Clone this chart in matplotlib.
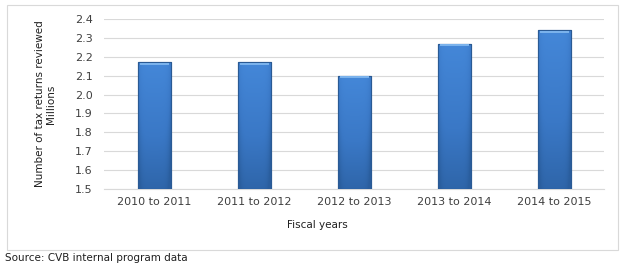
import numpy as np
import matplotlib.pyplot as plt
from matplotlib.patches import Rectangle
from matplotlib.colors import LinearSegmentedColormap

# data
fiscal_years = ['2010 to 2011', '2011 to 2012', '2012 to 2013', '2013 to 2014', '2014 to 2015']
returns_reviewed = [2.17, 2.17, 2.10, 2.27, 2.34]
y_ticks = [1.5, 1.6, 1.7, 1.8, 1.9, 2.0, 2.1, 2.2, 2.3, 2.4]

W, H = 623, 271
plt.rcParams['font.family'] = ['DejaVu Sans']

fig = plt.figure(figsize=(W / 100, H / 100), dpi=100)
ax = fig.add_axes([104 / W, 1 - 189 / H, 500 / W, 170 / H])

x = np.arange(len(fiscal_years))
bars = ax.bar(x, [v - 1.5 for v in returns_reviewed], bottom=1.5, width=0.33,
              color='#3B7BCC', edgecolor='#2A5A94', linewidth=0.8, zorder=3)

# bevelled blue fill: lighter at the top, darker at the bottom and sides
blues = LinearSegmentedColormap.from_list('bevel', ['#2A5E9E', '#3A78C6', '#4487D8'])
yy = np.linspace(0, 1, 64)[:, None]
xx = np.linspace(-1, 1, 32)[None, :]
shade = yy * 0.85 + 0.15 - 0.35 * np.abs(xx) ** 6
for b in bars:
    bx, by, bw, bh = b.get_x(), b.get_y(), b.get_width(), b.get_height()
    im = ax.imshow(shade, cmap=blues, vmin=0, vmax=1, origin='lower', aspect='auto',
                   extent=[bx, bx + bw, by, by + bh], zorder=3.5, interpolation='bilinear')
    im.set_clip_path(b)
    ax.add_patch(Rectangle((bx, by), bw, bh, fill=False, edgecolor='#2A5A94',
                           linewidth=0.8, zorder=4))
# light cap on the top of each bar
ax.bar(x, [0.012] * len(x), bottom=[v - 0.014 for v in returns_reviewed], width=0.29,
       color='#7AB2EC', linewidth=0, zorder=5)

ax.set_xlim(-0.5, len(x) - 0.5)
ax.set_ylim(1.5, 2.4)
ax.set_yticks(y_ticks)
ax.set_yticklabels([f'{t:.1f}' for t in y_ticks])
ax.set_xticks(x)
ax.set_xticklabels(fiscal_years)
ax.tick_params(length=0, labelsize=8, colors='#404040', pad=6)
ax.tick_params(axis='y', pad=8)
ax.grid(axis='y', color='#D9D9D9', linewidth=0.8, zorder=0)
for s in ['top', 'right', 'left']:
    ax.spines[s].set_visible(False)
ax.spines['bottom'].set_color('#D9D9D9')

ax.set_ylabel('Number of tax returns reviewed\nMillions', fontsize=7.5, color='#202020',
              linespacing=1.1, labelpad=14)

fig.text(317 / W, 1 - 225 / H, 'Fiscal years', fontsize=7.5, color='#202020',
         ha='center', va='center')
fig.text(5 / W, 1 - 258 / H, 'Source: CVB internal program data', fontsize=7.5,
         color='#202020', ha='left', va='center')

fig.patches.append(Rectangle((7 / W, 1 - 250 / H), 611 / W, 245 / H, transform=fig.transFigure,
                             fill=False, edgecolor='#D9D9D9', linewidth=0.8))

fig.savefig('out.png', dpi=100)
